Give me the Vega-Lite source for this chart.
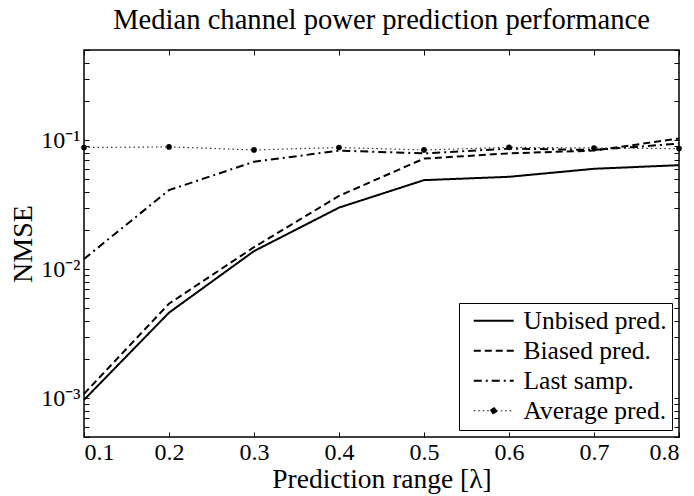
{
  "$schema": "https://vega.github.io/schema/vega-lite/v6.json",
  "width": 595,
  "height": 387,
  "autosize": "none",
  "padding": {"left": 84, "top": 50, "right": 15, "bottom": 59},
  "title": {"text": "Median channel power prediction performance", "font": "Liberation Serif", "fontSize": 28.6, "fontWeight": "normal", "color": "black", "anchor": "middle", "offset": 15},
  "data": {"values": [
    {"x": 0.1, "y": 0.00097, "series": "Unbised pred."},
    {"x": 0.2, "y": 0.0046, "series": "Unbised pred."},
    {"x": 0.3, "y": 0.0138, "series": "Unbised pred."},
    {"x": 0.4, "y": 0.030, "series": "Unbised pred."},
    {"x": 0.5, "y": 0.049, "series": "Unbised pred."},
    {"x": 0.6, "y": 0.052, "series": "Unbised pred."},
    {"x": 0.7, "y": 0.060, "series": "Unbised pred."},
    {"x": 0.8, "y": 0.064, "series": "Unbised pred."},
    {"x": 0.1, "y": 0.00108, "series": "Biased pred."},
    {"x": 0.2, "y": 0.0054, "series": "Biased pred."},
    {"x": 0.3, "y": 0.0148, "series": "Biased pred."},
    {"x": 0.4, "y": 0.037, "series": "Biased pred."},
    {"x": 0.5, "y": 0.072, "series": "Biased pred."},
    {"x": 0.6, "y": 0.079, "series": "Biased pred."},
    {"x": 0.7, "y": 0.083, "series": "Biased pred."},
    {"x": 0.8, "y": 0.103, "series": "Biased pred."},
    {"x": 0.1, "y": 0.012, "series": "Last samp."},
    {"x": 0.2, "y": 0.041, "series": "Last samp."},
    {"x": 0.3, "y": 0.068, "series": "Last samp."},
    {"x": 0.4, "y": 0.083, "series": "Last samp."},
    {"x": 0.5, "y": 0.079, "series": "Last samp."},
    {"x": 0.6, "y": 0.086, "series": "Last samp."},
    {"x": 0.7, "y": 0.084, "series": "Last samp."},
    {"x": 0.8, "y": 0.094, "series": "Last samp."},
    {"x": 0.1, "y": 0.0877, "series": "Average pred."},
    {"x": 0.2, "y": 0.0887, "series": "Average pred."},
    {"x": 0.3, "y": 0.084, "series": "Average pred."},
    {"x": 0.4, "y": 0.0877, "series": "Average pred."},
    {"x": 0.5, "y": 0.084, "series": "Average pred."},
    {"x": 0.6, "y": 0.088, "series": "Average pred."},
    {"x": 0.7, "y": 0.087, "series": "Average pred."},
    {"x": 0.8, "y": 0.086, "series": "Average pred."}
  ]},
  "layer": [
    {
      "transform": [{"filter": "datum.series != 'Average pred.'"}],
      "mark": {"type": "line", "color": "black", "strokeWidth": 2},
      "encoding": {
        "x": {"field": "x", "type": "quantitative", "scale": {"domain": [0.1, 0.8], "nice": false, "zero": false},
              "axis": {"orient": "bottom", "values": [0.1,0.2,0.3,0.4,0.5,0.6,0.7,0.8], "format": ".1f", "title": "Prediction range [λ]", "labelPadding": 8, "titlePadding": 1, "titleFontSize": 27.5}},
        "y": {"field": "y", "type": "quantitative", "scale": {"type": "log", "domain": [0.0005, 0.5], "nice": false},
              "axis": {"orient": "left", "title": "NMSE", "labelPadding": 9, "titlePadding": 3, "titleFontSize": 28,
                       "values": [0.0005,0.0006,0.0007,0.0008,0.0009,0.001,0.002,0.003,0.004,0.005,0.006,0.007,0.008,0.009,0.01,0.02,0.03,0.04,0.05,0.06,0.07,0.08,0.09,0.1,0.2,0.3,0.4,0.5],
                       "labelExpr": "datum.value == 0.1 ? '10⁻¹' : datum.value == 0.01 ? '10⁻²' : datum.value == 0.001 ? '10⁻³' : ''"}},
        "strokeDash": {"field": "series", "type": "nominal",
              "scale": {"domain": ["Unbised pred.", "Biased pred.", "Last samp.", "Average pred."], "range": [[1,0],[7,4],[8,4,2,4],[1.5,3]]},
              "legend": {"orient": "bottom-right", "offset": 7, "title": null,
                         "encode": {"symbols": {"update": {
                           "shape": {"signal": "datum.value === 'Average pred.' ? 'M-2,0L2,0M0.3,0A0.3,0.3,0,1,1,-0.3,0A0.3,0.3,0,1,1,0.3,0' : 'M-2,0L2,0'"},
                           "fill": {"signal": "datum.value === 'Average pred.' ? 'black' : 'transparent'"},
                           "stroke": {"value": "black"},
                           "strokeWidth": {"signal": "datum.value === 'Average pred.' ? 1.2 : 2"}
                         }}}}}
      }
    },
    {
      "transform": [{"filter": "datum.series == 'Average pred.'"}],
      "mark": {"type": "line", "color": "#333333", "strokeWidth": 1.2},
      "encoding": {
        "x": {"field": "x", "type": "quantitative", "axis": null},
        "y": {"field": "y", "type": "quantitative", "axis": null},
        "strokeDash": {"field": "series", "type": "nominal"}
      }
    },
    {
      "transform": [{"filter": "datum.series == 'Average pred.'"}],
      "mark": {"type": "point", "filled": true, "color": "black", "size": 32, "opacity": 1},
      "encoding": {
        "x": {"field": "x", "type": "quantitative",
              "axis": {"orient": "top", "values": [0.1,0.2,0.3,0.4,0.5,0.6,0.7,0.8], "labels": false, "title": null}},
        "y": {"field": "y", "type": "quantitative",
              "axis": {"orient": "right", "labels": false, "title": null,
                       "values": [0.0005,0.0006,0.0007,0.0008,0.0009,0.001,0.002,0.003,0.004,0.005,0.006,0.007,0.008,0.009,0.01,0.02,0.03,0.04,0.05,0.06,0.07,0.08,0.09,0.1,0.2,0.3,0.4,0.5]}}
      }
    }
  ],
  "resolve": {"axis": {"x": "independent", "y": "independent"}},
  "config": {
    "view": {"stroke": "black", "strokeWidth": 1.5},
    "font": "Liberation Serif",
    "axis": {"labelFont": "Liberation Serif", "labelFontSize": 24, "labelColor": "black", "titleFont": "Liberation Serif", "titleFontSize": 28, "titleFontWeight": "normal", "titleColor": "black", "grid": false, "domain": false, "tickColor": "black", "tickSize": -5, "tickWidth": 1},
    "legend": {"strokeColor": "black", "fillColor": "white", "padding": 5, "labelFont": "Liberation Serif", "labelFontSize": 25.5, "labelColor": "black", "symbolSize": 400, "symbolStrokeColor": "black", "labelOffset": 17, "rowPadding": 3, "symbolOffset": 17}
  }
}
